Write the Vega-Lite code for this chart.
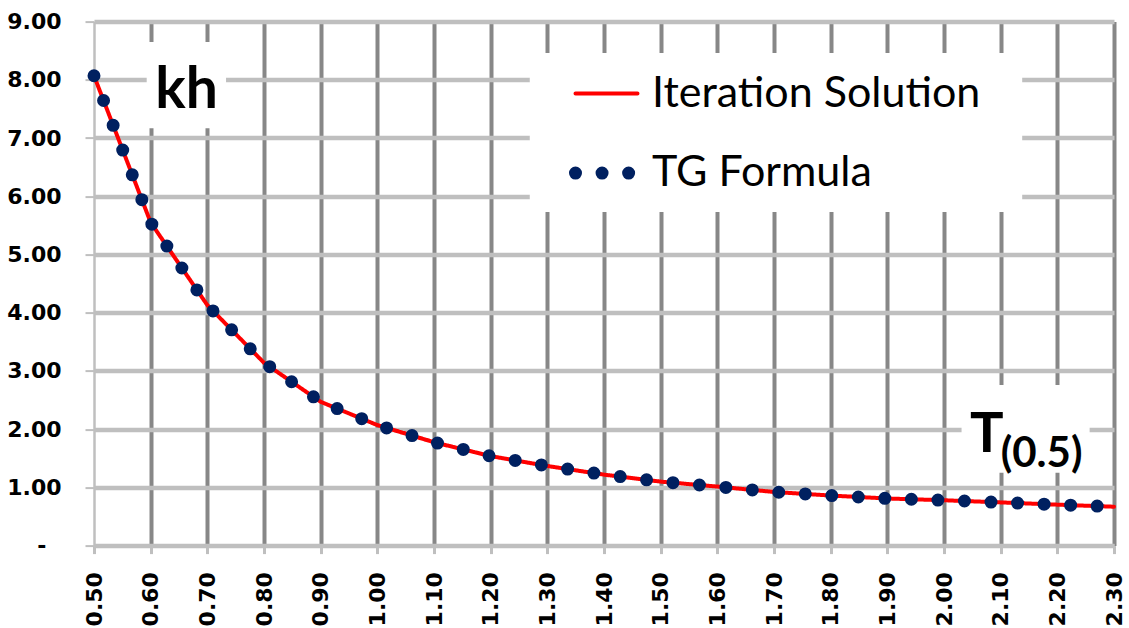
{
  "$schema": "https://vega.github.io/schema/vega-lite/v6.json",
  "width": 1020,
  "height": 524,
  "autosize": {"type": "none"},
  "padding": {"left": 94, "top": 21.6, "right": 15, "bottom": 82.4},
  "background": "white",
  "config": {"view": {"stroke": null}},
  "datasets": {
    "curve": [
      {"T": 0.5, "Iteration Solution": 8.07, "TG Formula": 8.07},
      {"T": 0.6, "Iteration Solution": 5.55, "TG Formula": 5.55},
      {"T": 0.7, "Iteration Solution": 4.13, "TG Formula": 4.13},
      {"T": 0.8, "Iteration Solution": 3.14, "TG Formula": 3.14},
      {"T": 0.9, "Iteration Solution": 2.47, "TG Formula": 2.47},
      {"T": 1.0, "Iteration Solution": 2.07, "TG Formula": 2.07},
      {"T": 1.1, "Iteration Solution": 1.775, "TG Formula": 1.775},
      {"T": 1.2, "Iteration Solution": 1.537, "TG Formula": 1.537},
      {"T": 1.3, "Iteration Solution": 1.367, "TG Formula": 1.367},
      {"T": 1.4, "Iteration Solution": 1.219, "TG Formula": 1.219},
      {"T": 1.5, "Iteration Solution": 1.099, "TG Formula": 1.099},
      {"T": 1.6, "Iteration Solution": 1.014, "TG Formula": 1.014},
      {"T": 1.7, "Iteration Solution": 0.921, "TG Formula": 0.921},
      {"T": 1.8, "Iteration Solution": 0.86, "TG Formula": 0.86},
      {"T": 1.9, "Iteration Solution": 0.809, "TG Formula": 0.809},
      {"T": 2.0, "Iteration Solution": 0.779, "TG Formula": 0.779},
      {"T": 2.1, "Iteration Solution": 0.742, "TG Formula": 0.742},
      {"T": 2.2, "Iteration Solution": 0.703, "TG Formula": 0.703},
      {"T": 2.3, "Iteration Solution": 0.668, "TG Formula": 0.668}
    ]
  },
  "layer": [
    {
      "data": {"name": "curve"},
      "mark": {"type": "point", "opacity": 0},
      "encoding": {
        "x": {
          "field": "T",
          "type": "quantitative",
          "scale": {"domain": [0.5, 2.3], "nice": false, "zero": false},
          "axis": {
            "title": null,
            "values": [0.5, 0.6, 0.7, 0.8, 0.9, 1.0, 1.1, 1.2, 1.3, 1.4, 1.5, 1.6, 1.7, 1.8, 1.9, 2.0, 2.1, 2.2, 2.3],
            "format": ".2f",
            "labelAngle": -90,
            "labelFont": "DejaVu Sans",
            "labelFontWeight": "bold",
            "labelFontSize": 22,
            "labelColor": "black",
            "labelPadding": 18,
            "labelFlush": false,
            "labelOverlap": false,
            "tickSize": 8,
            "tickWidth": 3,
            "tickColor": "#BFBFBF",
            "domainColor": "#BFBFBF",
            "domainWidth": 4,
            "gridColor": "#878787",
            "gridWidth": 4,
            "gridOpacity": {"condition": {"test": "datum.value < 0.51", "value": 0}, "value": 1}
          }
        },
        "y": {
          "field": "TG Formula",
          "type": "quantitative",
          "scale": {"domain": [0, 9], "nice": false, "zero": true},
          "axis": {
            "title": null,
            "values": [0, 1, 2, 3, 4, 5, 6, 7, 8, 9],
            "labelExpr": "datum.value === 0 ? '-' : format(datum.value, '.2f')",
            "labelFont": "DejaVu Sans",
            "labelFontWeight": "bold",
            "labelFontSize": 22,
            "labelColor": "black",
            "labelPadding": {"condition": {"test": "datum.value === 0", "value": 39}, "value": 24},
            "tickSize": 9,
            "tickWidth": 2,
            "tickColor": "#BFBFBF",
            "domainColor": "#BFBFBF",
            "domainWidth": 2.5,
            "gridColor": "#BFBFBF",
            "gridWidth": 4.5
          }
        }
      }
    },
    {
      "data": {"values": [{}]},
      "mark": {"type": "rect", "fill": "white"},
      "encoding": {
        "x": {"datum": 0.593, "type": "quantitative"},
        "x2": {"datum": 0.733},
        "y": {"datum": 8.65, "type": "quantitative"},
        "y2": {"datum": 7.17}
      }
    },
    {
      "data": {"values": [{}]},
      "mark": {"type": "rect", "fill": "white"},
      "encoding": {
        "x": {"datum": 1.269, "type": "quantitative"},
        "x2": {"datum": 2.138},
        "y": {"datum": 8.46, "type": "quantitative"},
        "y2": {"datum": 5.73}
      }
    },
    {
      "data": {"values": [{}]},
      "mark": {"type": "rect", "fill": "white"},
      "encoding": {
        "x": {"datum": 2.031, "type": "quantitative"},
        "x2": {"datum": 2.257},
        "y": {"datum": 2.76, "type": "quantitative"},
        "y2": {"datum": 1.25}
      }
    },
    {
      "data": {"values": [{}]},
      "mark": {"type": "text", "text": "kh", "font": "Lato", "fontWeight": "bold", "fontSize": 57, "align": "center", "baseline": "alphabetic", "color": "black"},
      "encoding": {
        "x": {"datum": 0.6635, "type": "quantitative"},
        "y": {"datum": 7.51, "type": "quantitative"}
      }
    },
    {
      "data": {"values": [{}]},
      "mark": {"type": "text", "text": "T", "font": "Lato", "fontWeight": "bold", "fontSize": 56, "align": "left", "baseline": "alphabetic", "color": "black"},
      "encoding": {
        "x": {"datum": 2.046, "type": "quantitative"},
        "y": {"datum": 1.61, "type": "quantitative"}
      }
    },
    {
      "data": {"values": [{}]},
      "mark": {"type": "text", "text": "(0.5)", "font": "Lato", "fontWeight": "bold", "fontSize": 42, "align": "left", "baseline": "alphabetic", "color": "black"},
      "encoding": {
        "x": {"datum": 2.1, "type": "quantitative"},
        "y": {"datum": 1.354, "type": "quantitative"}
      }
    },
    {
      "data": {"name": "curve"},
      "transform": [{"fold": ["Iteration Solution", "TG Formula"], "as": ["series", "kh"]}],
      "mark": {"type": "line", "strokeCap": "round", "strokeJoin": "round", "interpolate": "linear"},
      "encoding": {
        "x": {"field": "T", "type": "quantitative"},
        "y": {"field": "kh", "type": "quantitative"},
        "color": {
          "field": "series",
          "type": "nominal",
          "scale": {"domain": ["Iteration Solution", "TG Formula"], "range": ["#FF0000", "#002060"]},
          "legend": {"title": null, "orient": "none", "legendX": 475, "legendY": 39, "direction": "vertical", "symbolType": "stroke", "symbolSize": 3844, "labelFont": "Lato", "labelFontSize": 43, "labelColor": "black", "labelOffset": 8, "labelLimit": 0, "rowPadding": 20, "padding": 0, "encode": {"symbols": {"update": {"strokeCap": {"value": "round"}}}}}
        },
        "strokeDash": {
          "field": "series",
          "type": "nominal",
          "scale": {"domain": ["Iteration Solution", "TG Formula"], "range": [[1, 0], [0, 26.56]]},
          "legend": {"title": null, "orient": "none", "legendX": 475, "legendY": 39, "direction": "vertical", "symbolType": "stroke", "symbolSize": 3844, "labelFont": "Lato", "labelFontSize": 43, "labelColor": "black", "labelOffset": 8, "labelLimit": 0, "rowPadding": 20, "padding": 0, "encode": {"symbols": {"update": {"strokeCap": {"value": "round"}}}}}
        },
        "strokeWidth": {
          "field": "series",
          "type": "ordinal",
          "scale": {"domain": ["Iteration Solution", "TG Formula"], "range": [4, 13]},
          "legend": {"title": null, "orient": "none", "legendX": 475, "legendY": 39, "direction": "vertical", "symbolType": "stroke", "symbolSize": 3844, "labelFont": "Lato", "labelFontSize": 43, "labelColor": "black", "labelOffset": 8, "labelLimit": 0, "rowPadding": 20, "padding": 0, "encode": {"symbols": {"update": {"strokeCap": {"value": "round"}}}}}
        }
      }
    }
  ]
}
